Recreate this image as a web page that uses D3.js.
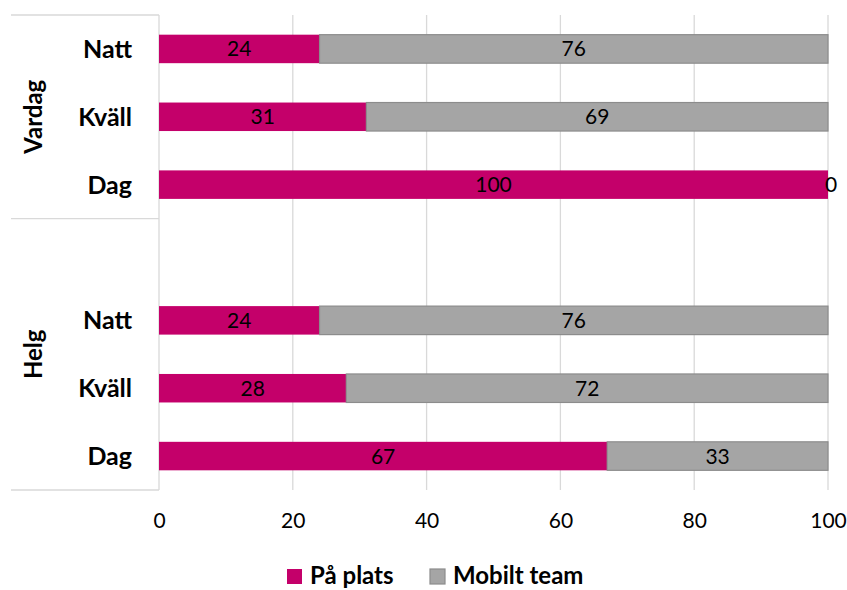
<!DOCTYPE html>
<html>
<head>
<meta charset="utf-8">
<script src="https://cdn.jsdelivr.net/npm/d3@7"></script>
<style>
  body { margin: 0; background: #fff; }
  text { font-family: Lato, "Open Sans", sans-serif; }
</style>
</head>
<body>
<script>
// categories, top to bottom (one empty slot at top of Helg)
var groups = ['Vardag', 'Helg'];
var slotGroup = ['Vardag', 'Vardag', 'Vardag', 'Helg', 'Helg', 'Helg', 'Helg'];
var slotLabel = ['Natt', 'Kväll', 'Dag', '', 'Natt', 'Kväll', 'Dag'];
var paPlats = [24, 31, 100, null, 24, 28, 67];
var mobiltTeam = [76, 69, 0, null, 76, 72, 33];
var seriesNames = ['På plats', 'Mobilt team'];
var xTicks = [0, 20, 40, 60, 80, 100];

var W = 847, H = 590;
var plotLeft = 159, plotRight = 828, plotTop = 15, plotBottom = 490;
var colors = ['#C4006A', '#A5A5A5'];

var svg = d3.select('body').append('svg')
  .attr('width', W).attr('height', H);

var x = d3.scaleLinear().domain([0, 100]).range([plotLeft, plotRight]);
var slots = d3.range(slotLabel.length);
var y = d3.scaleBand().domain(slots).range([plotTop, plotBottom])
  .paddingInner(0.58).paddingOuter(0.29);

// gridlines
svg.append('g').selectAll('line').data(xTicks).enter().append('line')
  .attr('x1', d => x(d)).attr('x2', d => x(d))
  .attr('y1', plotTop).attr('y2', plotBottom)
  .attr('stroke', '#D9D9D9').attr('stroke-width', 1.3);

// x axis labels
var xAxis = d3.axisBottom(x).tickValues(xTicks).tickSize(0).tickPadding(0);
var xg = svg.append('g').attr('transform', 'translate(0,' + (plotBottom + 23) + ')').call(xAxis);
xg.select('.domain').remove();
xg.selectAll('text').attr('font-size', '21px').attr('fill', '#000')
  .attr('font-family', 'Lato, "Open Sans", sans-serif');

// category axis lines
var groupBounds = [plotTop, plotTop + (plotBottom - plotTop) * 3 / 7, plotBottom];
svg.append('g').selectAll('line').data(groupBounds).enter().append('line')
  .attr('x1', 11).attr('x2', plotLeft)
  .attr('y1', d => d).attr('y2', d => d)
  .attr('stroke', '#D9D9D9').attr('stroke-width', 1.3);

// stacked bars
var rows = slots.filter(i => paPlats[i] !== null).map(i => ({ i: i, a: paPlats[i], b: mobiltTeam[i] }));
var bars = svg.append('g');
bars.selectAll('.pa').data(rows).enter().append('rect')
  .attr('x', d => x(0)).attr('width', d => x(d.a) - x(0))
  .attr('y', d => y(d.i)).attr('height', y.bandwidth())
  .attr('fill', colors[0]);
bars.selectAll('.mob').data(rows.filter(d => d.b > 0)).enter().append('rect')
  .attr('x', d => x(d.a)).attr('width', d => x(d.a + d.b) - x(d.a))
  .attr('y', d => y(d.i)).attr('height', y.bandwidth())
  .attr('fill', colors[1]).attr('stroke', '#8C8C8C').attr('stroke-width', 1.2);

// data labels
var labels = svg.append('g').attr('font-size', '21px').attr('fill', '#000').attr('text-anchor', 'middle');
rows.forEach(function(d) {
  labels.append('text').attr('x', x(d.a / 2)).attr('y', y(d.i) + y.bandwidth() / 2)
    .attr('dy', '0.36em').text(d.a);
  labels.append('text').attr('x', d.b > 0 ? x(d.a + d.b / 2) : x(d.a) + 3)
    .attr('y', y(d.i) + y.bandwidth() / 2).attr('dy', '0.36em').text(d.b);
});

// category labels
svg.append('g').selectAll('text').data(slots.filter(i => slotLabel[i])).enter().append('text')
  .attr('x', 132).attr('y', i => y(i) + y.bandwidth() / 2).attr('dy', '0.36em')
  .attr('text-anchor', 'end').attr('font-size', '25px').attr('font-weight', 'bold')
  .text(i => slotLabel[i]);

// group labels
svg.append('g').selectAll('text').data(groups).enter().append('text')
  .attr('transform', function(g, k) {
    var cy = (groupBounds[k] + groupBounds[k + 1]) / 2;
    return 'translate(33,' + cy + ') rotate(-90)';
  })
  .attr('dy', '0.36em').attr('text-anchor', 'middle')
  .attr('font-size', '24px').attr('font-weight', 'bold')
  .text(g => g);

// legend
var legend = svg.append('g').attr('font-size', '24px').attr('font-weight', 'bold');
var legX = [287, 430];
seriesNames.forEach(function(name, k) {
  legend.append('rect').attr('x', legX[k]).attr('y', 569).attr('width', 15).attr('height', 15)
    .attr('fill', colors[k]).attr('stroke', k == 1 ? '#8C8C8C' : 'none').attr('stroke-width', 1.2);
  legend.append('text').attr('x', legX[k] + 23).attr('y', 576).attr('dy', '0.35em').text(name);
});
</script>
</body>
</html>
